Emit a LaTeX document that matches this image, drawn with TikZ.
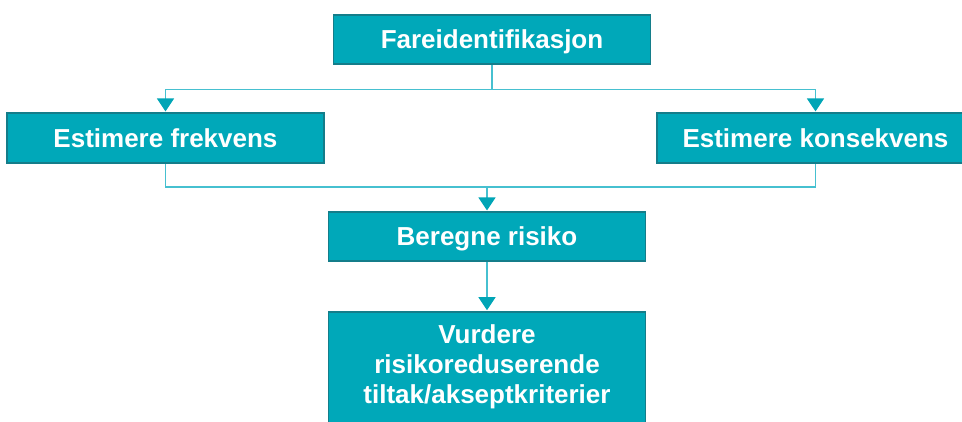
\documentclass[tikz,border=0pt]{standalone}
\usepackage{fontspec}
\setmainfont{Liberation Sans}
\usetikzlibrary{arrows.meta}
\definecolor{boxfill}{RGB}{0,168,185}
\definecolor{boxedge}{RGB}{20,125,138}
\definecolor{linecol}{RGB}{70,192,208}
\definecolor{tipcol}{RGB}{0,165,182}
\tikzset{
  stepbox/.style={draw=boxedge, line width=1.6pt, fill=boxfill, text=white,
    font=\fontsize{26}{30}\selectfont\bfseries, minimum width=317pt, minimum height=49pt, inner sep=0pt},
  oneline/.style={text height=18.6pt, text depth=0pt},
  conn/.style={draw=linecol, line width=1.4pt},
  arr/.style={conn, -{Triangle[width=17pt,length=13pt,color=tipcol]}, shorten >=0.8pt}
}
\begin{document}
\begin{tikzpicture}[x=1pt,y=-1pt]
\useasboundingbox (0,0) rectangle (962,422);
\node[stepbox, oneline] (fare) at (492,39.5) {Fareidentifikasjon};
\node[stepbox, oneline, minimum height=50pt] (frek) at (165.5,138) {Estimere frekvens};
\node[stepbox, oneline, minimum height=50pt] (kons) at (815.5,138) {Estimere konsekvens};
\node[stepbox, oneline] (ber) at (487,236.5) {Beregne risiko};
\node[stepbox, anchor=north] (vur) at (487,311) {\parbox[t][125pt][t]{317pt}{\centering\vspace*{13pt}Vurdere\\risikoreduserende\\tiltak/akseptkriterier}};
\draw[conn] (fare.south) -- ++(0,25) coordinate (j1);
\draw[arr] (j1) -| (frek.north);
\draw[arr] (j1) -| (kons.north);
\coordinate (j2) at ([yshift=24pt]ber.north);
\draw[conn] (frek.south) |- (j2);
\draw[conn] (kons.south) |- (j2);
\draw[arr] (j2) -- (ber.north);
\draw[arr] (ber.south) -- (vur.north);
\end{tikzpicture}
\end{document}
